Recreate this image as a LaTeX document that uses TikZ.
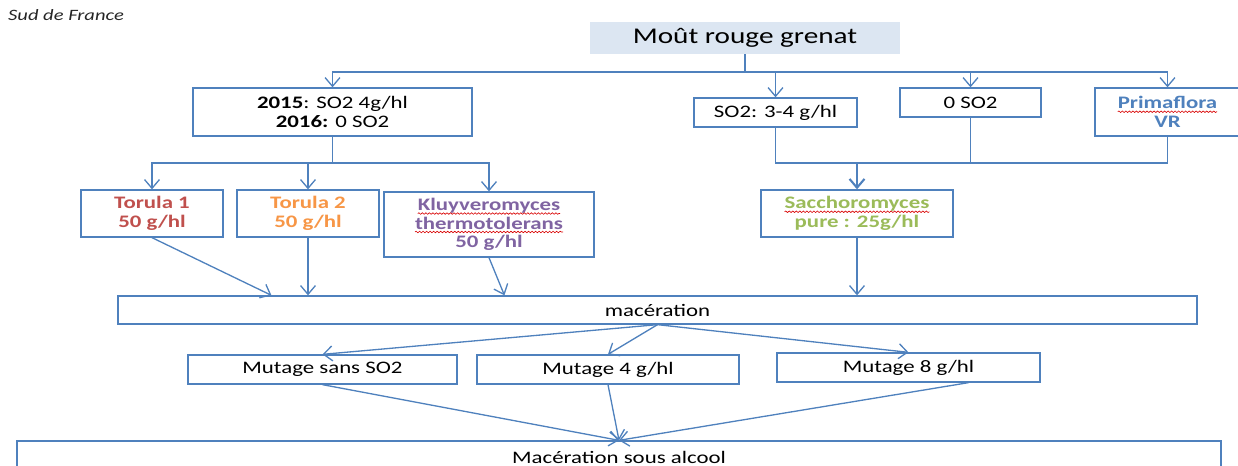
\documentclass[tikz,border=0pt]{standalone}
\usepackage{fontspec}
\setmainfont{Carlito}[FakeStretch=1.3]
\usetikzlibrary{arrows.meta,calc,positioning,decorations.pathmorphing}
\definecolor{linkblue}{RGB}{79,129,189}
\definecolor{headfill}{RGB}{220,230,242}
\definecolor{torulared}{RGB}{192,80,77}
\definecolor{torulaorange}{RGB}{247,150,70}
\definecolor{kluyviolet}{RGB}{128,100,162}
\definecolor{saccgreen}{RGB}{155,187,89}
\newcommand{\spellmark}[1]{\tikz[baseline=(sw.base)]{%
  \node[inner sep=0pt, outer sep=0pt, minimum width=0pt, minimum height=0pt,
        draw=none, fill=none] (sw) {#1};
  \draw[red!85!black, line width=0.35pt, decorate,
        decoration={snake, amplitude=0.45pt, segment length=2pt}]
    ([yshift=-1.6pt]sw.base west) -- ([yshift=-1.6pt]sw.base east);}}
\tikzset{
  wire/.style={linkblue, line width=0.75pt},
  flow/.style={wire, -{Straight Barb[length=5pt,width=8.5pt]}},
  box/.style={draw=linkblue, line width=0.75pt, fill=white,
              inner sep=0pt, align=center,
              font=\fontsize{10}{10.5}\selectfont},
  boldbox/.style={box, font=\fontsize{10}{10.5}\selectfont\bfseries},
  headbox/.style={fill=headfill, inner sep=0pt,
                  font=\fontsize{12.8}{14}\selectfont},
  scrawl/.style={font=\fontsize{9}{10}\selectfont\itshape, text=black!85},
}
\begin{document}
\begin{tikzpicture}[x=0.02cm,y=-0.02cm]
  \useasboundingbox (0,0) rectangle (1238,466);

  \node[scrawl] (note) at (66,15) {Sud de France};

  \node[headbox, minimum width=6.2cm, minimum height=0.64cm] (mout) at (745,38)
    {Moût rouge grenat};

  % first row
  \node[box, minimum width=5.58cm, minimum height=0.96cm] (b2015) at (332.5,112)
    {\textbf{2015}: SO2 4g/hl\\\textbf{2016:} 0 SO2};
  \node[box, minimum width=3.26cm, minimum height=0.58cm] (so2) at (775.5,112.5)
    {SO2: 3-4 g/hl};
  \node[box, minimum width=2.82cm, minimum height=0.58cm] (zero) at (970.5,102.5)
    {0 SO2};
  \node[boldbox, text=linkblue, minimum width=2.9cm, minimum height=0.96cm] (prima) at (1167.5,112)
    {\spellmark{Primaflora}\\VR};

  % yeasts
  \node[boldbox, text=torulared, minimum width=2.84cm, minimum height=0.94cm] (t1) at (152,213.5)
    {Torula 1\\50 g/hl};
  \node[boldbox, text=torulaorange, minimum width=2.84cm, minimum height=0.94cm] (t2) at (308,213.5)
    {Torula 2\\50 g/hl};
  \node[boldbox, text=kluyviolet, minimum width=4.2cm, minimum height=1.3cm] (kluy) at (489,224.5)
    {\spellmark{Kluyveromyces}\\\spellmark{thermotolerans}\\50 g/hl};
  \node[boldbox, text=saccgreen, minimum width=3.84cm, minimum height=0.94cm] (sacch) at (857,213.5)
    {\spellmark{Sacchoromyces}\\pure : 25g/hl};

  \node[box, minimum width=21.58cm, minimum height=0.56cm] (mac) at (657.5,310)
    {macération};

  \node[box, minimum width=5.38cm, minimum height=0.58cm] (mu0) at (322.5,369.5)
    {Mutage sans SO2};
  \node[box, minimum width=5.24cm, minimum height=0.58cm] (mu4) at (608,369.5)
    {Mutage 4 g/hl};
  \node[box, minimum width=5.26cm, minimum height=0.58cm] (mu8) at (908.5,367.5)
    {Mutage 8 g/hl};

  \node[box, minimum width=24.08cm, minimum height=0.64cm] (alc) at (619,457)
    {Macération sous alcool};

  % connectors
  \coordinate (split) at (745,72);
  \draw[wire] (mout.south) -- (split);
  \foreach \dest in {b2015,so2,zero,prima}
    \draw[flow] (split) -| (\dest.north);

  \coordinate (split2) at (332.5,163);
  \draw[wire] (b2015.south) -- (split2);
  \foreach \dest in {t1,t2,kluy}
    \draw[flow] (split2) -| (\dest.north);

  \coordinate (merge) at (857,163);
  \foreach \src in {so2,zero,prima}
    \draw[wire] (\src.south) |- (merge);
  \draw[flow, line width=1.2pt] (merge) -- (sacch.north);

  \coordinate (in1) at ($(mac.north west)+(154,0)$);
  \coordinate (in3) at ($(mac.north west)+(387,0)$);
  \draw[flow] (t1.south) -- (in1);
  \draw[flow] (t2.south) -- (t2.south |- mac.north);
  \draw[flow] (kluy.south) -- (in3);
  \draw[flow] (sacch.south) -- (sacch.south |- mac.north);

  \foreach \dest in {mu0,mu4,mu8}
    \draw[flow] (mac.south) -- (\dest.north);
  \draw[flow] (mu0.south) -- (alc.north);
  \draw[flow] (mu4.south) -- (alc.north);
  \draw[flow] ($(mu8.south)+(60,0)$) -- (alc.north);
\end{tikzpicture}
\end{document}
